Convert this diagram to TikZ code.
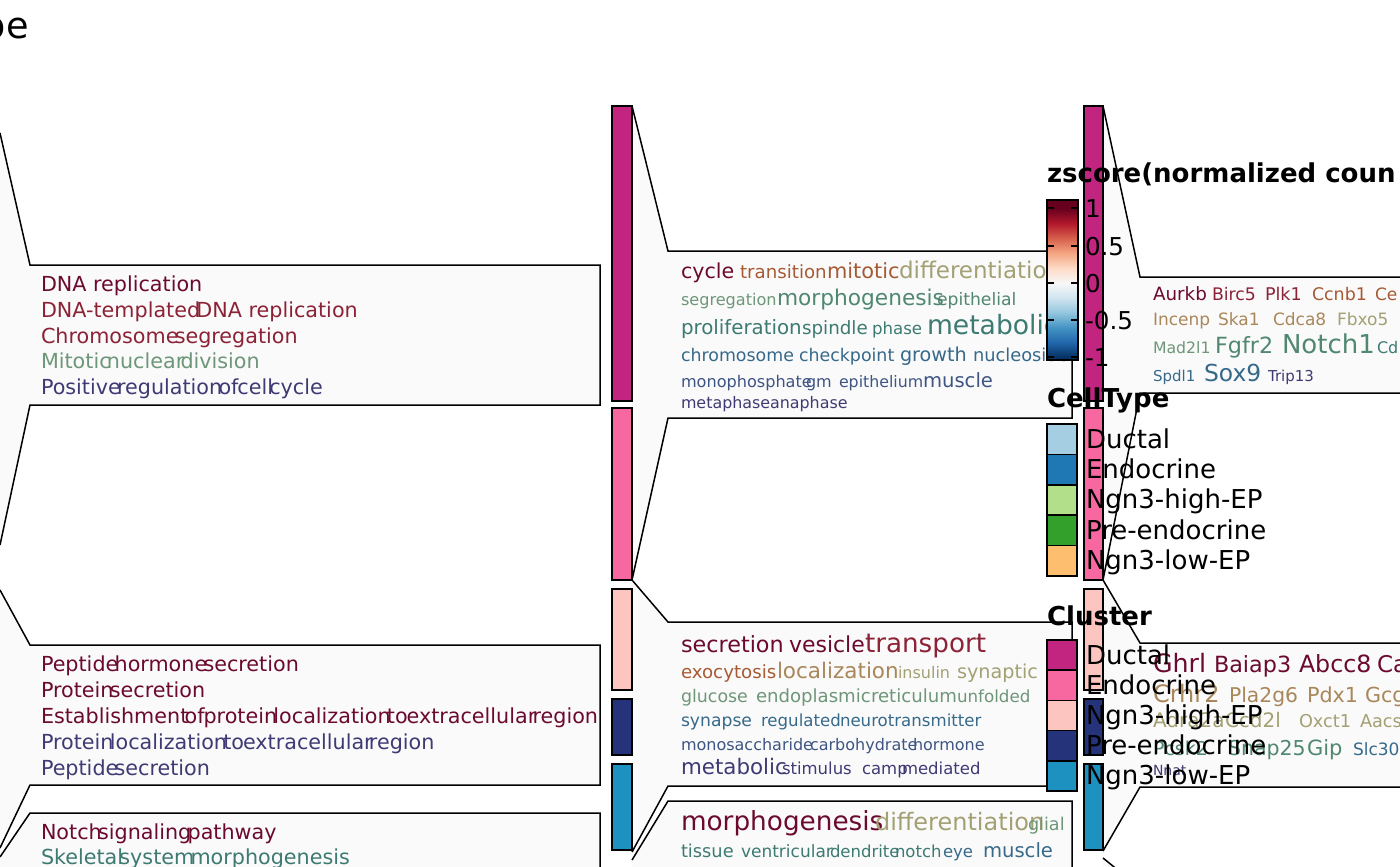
\documentclass[tikz,border=0pt]{standalone}
\usepackage{fontspec}
\setmainfont{DejaVu Sans}
\usepackage{xcolor}
\usetikzlibrary{calc}

%Colours of the word clouds
\definecolor{panelfill}{HTML}{FAFAFA}
\definecolor{cA}{HTML}{6B0A2E}
\definecolor{cB}{HTML}{8C2236}
\definecolor{cC}{HTML}{A65A34}
\definecolor{cD}{HTML}{A9875A}
\definecolor{cE}{HTML}{A3A073}
\definecolor{cF}{HTML}{6E9678}
\definecolor{cG}{HTML}{4F8770}
\definecolor{cH}{HTML}{3C7A72}
\definecolor{cI}{HTML}{36698A}
\definecolor{cJ}{HTML}{3E5584}
\definecolor{cK}{HTML}{3F3A74}
%Cluster colours
\definecolor{clDuctal}{HTML}{C2257F}
\definecolor{clEndo}{HTML}{F768A1}
\definecolor{clHigh}{HTML}{FCC5C0}
\definecolor{clPre}{HTML}{25337A}
\definecolor{clLow}{HTML}{1D91C0}
%CellType colours
\definecolor{ctDuctal}{HTML}{A6CEE3}
\definecolor{ctEndo}{HTML}{1F78B4}
\definecolor{ctHigh}{HTML}{B2DF8A}
\definecolor{ctPre}{HTML}{33A02C}
\definecolor{ctLow}{HTML}{FDBF6F}
%zscore colours
\definecolor{rbA}{HTML}{67001F}
\definecolor{rbB}{HTML}{B2182B}
\definecolor{rbC}{HTML}{D6604D}
\definecolor{rbD}{HTML}{F4A582}
\definecolor{rbE}{HTML}{FDDBC7}
\definecolor{rbF}{HTML}{F7F7F7}
\definecolor{rbG}{HTML}{D1E5F0}
\definecolor{rbH}{HTML}{92C5DE}
\definecolor{rbI}{HTML}{4393C3}
\definecolor{rbJ}{HTML}{2166AC}
\definecolor{rbK}{HTML}{053061}
\pgfdeclareverticalshading{zscorebar}{100bp}{color(0bp)=(rbK); color(25.78bp)=(rbK); color(30.44bp)=(rbJ); color(35.09bp)=(rbI); color(39.75bp)=(rbH); color(44.41bp)=(rbG); color(49.06bp)=(rbF); color(53.72bp)=(rbE); color(58.38bp)=(rbD); color(63.03bp)=(rbC); color(67.69bp)=(rbB); color(72.34bp)=(rbA); color(100bp)=(rbA)}

\begin{document}
\begin{tikzpicture}[x=0.5pt, y=-0.5pt,
		edge/.style={draw=black, line width=0.75pt, line join=miter},
		bar/.style={draw=black, line width=0.8pt},
		wordbox/.style={anchor=base west, inner sep=0pt, outer sep=0pt}]
				\newcommand{\myfontword}[1]{%
					\fontsize{#1}{#1}\selectfont%
				}\newcommand{\myjoin}{\hspace{-0.18em}}%
				\newcommand{\mytouch}{\hspace{-0.05em}}%Canvas
				\useasboundingbox (0,0) rectangle (1400,866);
				\clip (0,0) rectangle (1400,866);
				\fill[white] (0,0) rectangle (1400,866);
				%Title cut at the left
				\node[anchor=base east, inner sep=0pt, font=\myfontword{18.3}] (title) at (29,39) {pe};
				%Left panels
				\coordinate (l1a) at (0,133);
				\coordinate (l1b) at (30,265);
				\coordinate (l1c) at (600,265);
				\coordinate (l1d) at (600,405);
				\coordinate (l1e) at (30,405);
				\coordinate (l1f) at (0,545);
				\fill[panelfill] (l1a) -- (l1b) -- (l1c) -- (l1d) -- (l1e) -- (l1f) -- cycle;
				\draw[edge] (l1a) -- (l1b) -- (l1c) -- (l1d) -- (l1e) -- (l1f);
				\coordinate (l2a) at (0,590);
				\coordinate (l2b) at (30,645);
				\coordinate (l2c) at (600,645);
				\coordinate (l2d) at (600,785);
				\coordinate (l2e) at (30,785);
				\coordinate (l2f) at (0,848);
				\fill[panelfill] (l2a) -- (l2b) -- (l2c) -- (l2d) -- (l2e) -- (l2f) -- cycle;
				\draw[edge] (l2a) -- (l2b) -- (l2c) -- (l2d) -- (l2e) -- (l2f);
				\coordinate (l3a) at (0,857);
				\coordinate (l3b) at (30,813);
				\coordinate (l3c) at (600,813);
				\coordinate (l3d) at (600,880);
				\fill[panelfill] (l3a) -- (l3b) -- (l3c) -- (l3d) -- (0,880) -- cycle;
				\draw[edge] (l3a) -- (l3b) -- (l3c) -- (l3d);
				%Middle panels
				\coordinate (m1a) at (632,106);
				\coordinate (m1b) at (668,251);
				\coordinate (m1c) at (1072,251);
				\coordinate (m1d) at (1072,418);
				\coordinate (m1e) at (668,418);
				\coordinate (m1f) at (632,580);
				\fill[panelfill] (m1a) -- (m1b) -- (m1c) -- (m1d) -- (m1e) -- (m1f) -- cycle;
				\draw[edge] (m1a) -- (m1b) -- (m1c) -- (m1d) -- (m1e) -- (m1f);
				\coordinate (m2a) at (632,580);
				\coordinate (m2b) at (668,622);
				\coordinate (m2c) at (1072,622);
				\coordinate (m2d) at (1072,786);
				\coordinate (m2e) at (668,786);
				\coordinate (m2f) at (632,852);
				\fill[panelfill] (m2a) -- (m2b) -- (m2c) -- (m2d) -- (m2e) -- (m2f) -- cycle;
				\draw[edge] (m2a) -- (m2b) -- (m2c) -- (m2d) -- (m2e) -- (m2f);
				\coordinate (m3a) at (632,860);
				\coordinate (m3b) at (668,801);
				\coordinate (m3c) at (1072,801);
				\coordinate (m3d) at (1072,880);
				\fill[panelfill] (m3a) -- (m3b) -- (m3c) -- (m3d) -- (632,880) -- cycle;
				\draw[edge] (m3a) -- (m3b) -- (m3c) -- (m3d);
				%Right panels
				\coordinate (r1a) at (1103,106);
				\coordinate (r1b) at (1140,277);
				\coordinate (r1c) at (1420,277);
				\coordinate (r1d) at (1420,393);
				\coordinate (r1e) at (1140,393);
				\coordinate (r1f) at (1103,580);
				\fill[panelfill] (r1a) -- (r1b) -- (r1c) -- (r1d) -- (r1e) -- (r1f) -- cycle;
				\draw[edge] (r1a) -- (r1b) -- (r1c) -- (r1d) -- (r1e) -- (r1f);
				\coordinate (r2a) at (1103,580);
				\coordinate (r2b) at (1140,643);
				\coordinate (r2c) at (1420,643);
				\coordinate (r2d) at (1420,787);
				\coordinate (r2e) at (1140,787);
				\coordinate (r2f) at (1103,851);
				\fill[panelfill] (r2a) -- (r2b) -- (r2c) -- (r2d) -- (r2e) -- (r2f) -- cycle;
				\draw[edge] (r2a) -- (r2b) -- (r2c) -- (r2d) -- (r2e) -- (r2f);
				\coordinate (r3a) at (1103,858);
				\coordinate (r3b) at (1140,888);
				\fill[panelfill] (r3a) -- (r3b) -- (1103,888) -- cycle;
				\draw[edge] (r3a) -- (r3b);
				%Terms of the left panels
				\foreach \py/\col/\word [count=\i] in {291/cA/DNA replication, 317/cB/DNA-templated\myjoin DNA replication, 343/cB/Chromosome\myjoin segregation, 368/cF/Mitotic\myjoin nuclear\myjoin division, 394/cK/Positive\myjoin regulation\myjoin of\mytouch cell\myjoin cycle, 671/cA/Peptide\myjoin hormone\myjoin secretion, 697/cA/Protein\myjoin secretion, 723/cA/Establishment\myjoin of\mytouch protein\myjoin localization\myjoin to\mytouch extracellular\myjoin region, 749/cK/Protein\myjoin localization\myjoin to\mytouch extracellular\myjoin region, 775/cK/Peptide\myjoin secretion, 839/cA/Notch\myjoin signaling\myjoin pathway, 864/cH/Skeletal\myjoin system\myjoin morphogenesis} {
					\node[wordbox, text=\col, font=\myfontword{10.35}] (term\i) at (41,\py) {\word};
				}
				%Words of the middle panels
				\foreach \px/\py/\fs/\col/\word [count=\i] in {681/278/10.3/cA/cycle, 740/278/9.1/cC/transition, 827/278/10.45/cC/mitotic, 899/278/11.5/cE/differentiation, 681/305/8.05/cF/segregation, 777/305/10.85/cG/morphogenesis, 937/305/8.6/cG/epithelial, 681/334/9.9/cH/proliferation, 802/334/9.15/cH/spindle, 872/334/8.3/cH/phase, 927/334/13.3/cH/metabolic, 681/361/8.7/cI/chromosome, 799/361/8.7/cI/checkpoint, 900/361/9.6/cI/growth, 973/361/8.9/cI/nucleoside, 681/387/8.05/cJ/monophosphate, 806/387/8/cJ/gm, 839/387/7.9/cJ/epithelium, 923/387/9.8/cJ/muscle, 681/408/7.95/cK/metaphase, 770/408/7.95/cK/anaphase} {
					\node[wordbox, text=\col, font=\myfontword{\fs}] (wa\i) at (\px,\py) {\word};
				}
				\foreach \px/\py/\fs/\col/\word [count=\i] in {681/652/11.15/cA/secretion, 789/652/11/cA/vesicle, 865/652/13.1/cB/transport, 681/678/9.1/cC/exocytosis, 777/678/10.75/cD/localization, 898/678/8/cE/insulin, 957/678/9.6/cE/synaptic, 681/702/8.7/cF/glucose, 756/702/9.05/cF/endoplasmic, 871/702/9.05/cF/reticulum, 957/702/8.35/cF/unfolded, 681/726/8.6/cI/synapse, 761/726/8.3/cI/regulated, 840/726/8.3/cI/neurotransmitter, 681/750/8/cJ/monosaccharide, 810/750/8/cJ/carbohydrate, 913/750/8/cJ/hormone, 681/774/10.7/cK/metabolic, 782/774/8.25/cK/stimulus, 862/774/8.25/cK/camp, 902/774/8.25/cK/mediated} {
					\node[wordbox, text=\col, font=\myfontword{\fs}] (wb\i) at (\px,\py) {\word};
				}
				\foreach \px/\py/\fs/\col/\word [count=\i] in {681/830/13.15/cA/morphogenesis, 875/830/12/cE/differentiation, 1028/830/8.8/cF/glial, 681/857/8.9/cH/tissue, 741/857/8.5/cH/ventricular, 830/857/8.25/cH/dendrite, 895/857/8.25/cH/notch, 943/857/8.25/cI/eye, 983/857/9.8/cI/muscle} {
					\node[wordbox, text=\col, font=\myfontword{\fs}] (wc\i) at (\px,\py) {\word};
				}
				%Genes of the right panels
				\foreach \px/\py/\fs/\col/\word [count=\i] in {1153/300/9.15/cA/Aurkb, 1212/300/8.65/cB/Birc5, 1265/300/8.75/cB/Plk1, 1312/300/8.7/cC/Ccnb1, 1375/300/8.5/cC/Ce, 1153/325/8.5/cD/Incenp, 1218/325/8.5/cD/Ska1, 1273/325/8.5/cD/Cdca8, 1337/325/8.5/cE/Fbxo5, 1153/353/7.85/cF/Mad2l1, 1215/353/11.15/cG/Fgfr2, 1282/353/13/cG/Notch1, 1377/353/8/cH/Cd, 1153/381/7.5/cI/Spdl1, 1204/381/11.7/cI/Sox9, 1268/381/7.5/cK/Trip13} {
					\node[wordbox, text=\col, font=\myfontword{\fs}] (ga\i) at (\px,\py) {\word};
				}
				\foreach \px/\py/\fs/\col/\word [count=\i] in {1153/672/12.65/cA/Ghrl, 1214/672/11.15/cA/Baiap3, 1299/672/11.85/cA/Abcc8, 1377/672/11.5/cA/Ca, 1153/702/12/cD/Crhr2, 1229/702/10.15/cD/Pla2g6, 1307/702/10.35/cD/Pdx1, 1365/702/10.35/cD/Gcg, 1153/727/10/cE/Adra2a, 1225/727/10/cE/Ccd2l, 1299/727/8.85/cE/Oxct1, 1360/727/8.85/cE/Aacs, 1153/755/9.5/cG/Pcsk2, 1228/755/10.25/cG/Snap25, 1307/755/10.5/cG/Gip, 1353/755/8.5/cI/Slc30, 1153/775/7/cK/Nnat} {
					\node[wordbox, text=\col, font=\myfontword{\fs}] (gb\i) at (\px,\py) {\word};
				}
				%Cluster bars
				\foreach \n/\top/\bot/\col in {1/106/401/clDuctal, 2/408/580/clEndo, 3/589/690/clHigh, 4/699/755/clPre, 5/764/850/clLow} {
					\draw[bar, fill=\col] (612,\top) rectangle (632,\bot);
					\draw[bar, fill=\col] (1084,\top) rectangle (1103,\bot);
				}
				%Legend zscore
				\node[wordbox, font=\myfontword{13}\bfseries] (zlegend) at (1047,183) {zscore(normalized coun};
				\shade[shading=zscorebar] (1047,200) rectangle (1078,360);
				\draw[bar] (1047,200) rectangle (1078,360);
				\foreach \v/\ty [count=\i] in {1/208, 0.5/246, 0/283, -0.5/320, -1/357} {
					\draw[line width=0.7pt] (1047,\ty) -- (1054,\ty) (1071,\ty) -- (1078,\ty);
					\node[wordbox, font=\myfontword{12.3}] (ztick\i) at (1085,{\ty+9}) {\v};
				}
				%Legend CellType
				\node[wordbox, font=\myfontword{13}\bfseries] (ctlegend) at (1047,407) {CellType};
				\foreach \top/\col/\lab [count=\i] in {424/ctDuctal/Ductal, 454.4/ctEndo/Endocrine, 484.8/ctHigh/Ngn3-high-EP, 515.2/ctPre/Pre-endocrine, 545.6/ctLow/Ngn3-low-EP} {
					\draw[bar, fill=\col] (1047,\top) rectangle (1077,{\top+30.4});
					\node[wordbox, font=\myfontword{13}] (ct\i) at (1086,{\top+24}) {\lab};
				}
				%Legend Cluster
				\node[wordbox, font=\myfontword{13}\bfseries] (cllegend) at (1047,625) {Cluster};
				\foreach \top/\col/\lab [count=\i] in {640/clDuctal/Ductal, 670.2/clEndo/Endocrine, 700.4/clHigh/Ngn3-high-EP, 730.6/clPre/Pre-endocrine, 760.8/clLow/Ngn3-low-EP} {
					\draw[bar, fill=\col] (1047,\top) rectangle (1077,{\top+30.2});
					\node[wordbox, font=\myfontword{13}] (cl\i) at (1086,{\top+24}) {\lab};
				}
				\end{tikzpicture}
\end{document}
